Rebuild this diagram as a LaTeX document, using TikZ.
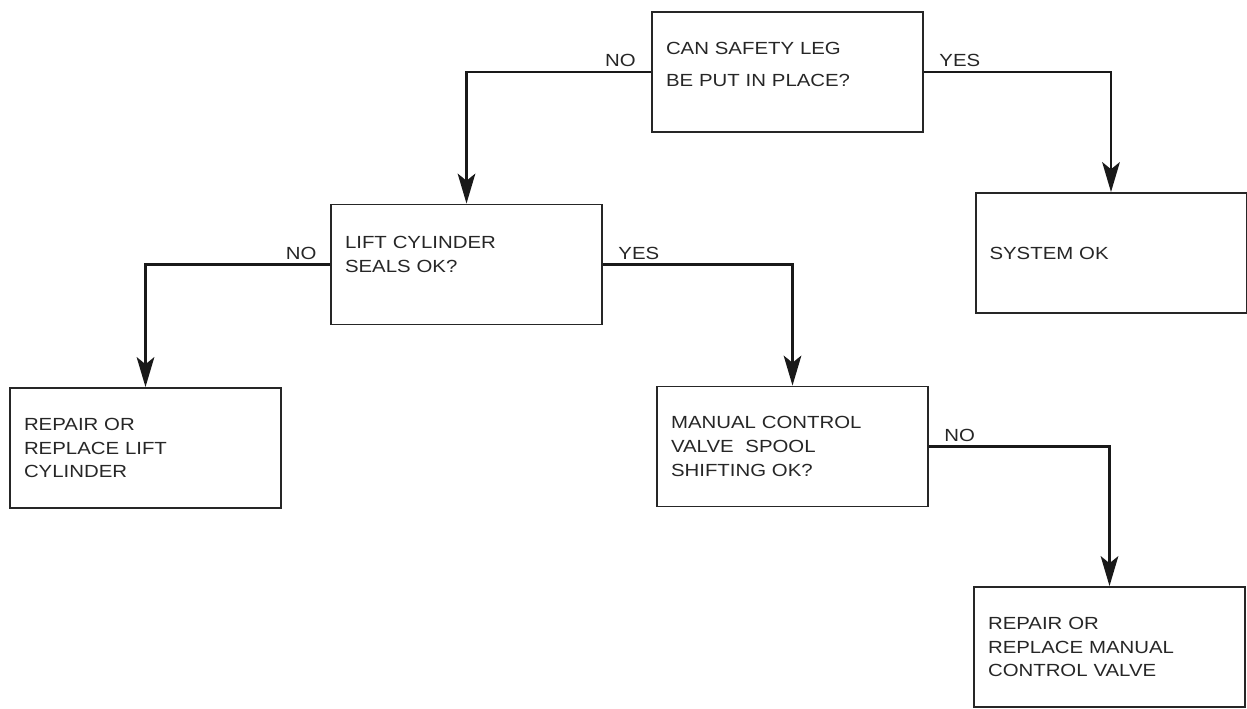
\documentclass[tikz,border=0pt]{standalone}
\usepackage{fontspec}
\setmainfont[FakeStretch=1.16]{Liberation Sans}
\usetikzlibrary{arrows.meta, positioning}

\begin{document}
\begin{tikzpicture}[
    % ── Global: one unit = one pixel of the sheet ──
    x=0.02cm, y=-0.02cm,
    % ── Node Styles ──
    qbox/.style={
        rectangle, draw=black!85, line width=1.1pt,
        minimum width=5.42cm, minimum height=2.4cm,
        text width=4.86cm, align=left, inner xsep=0.28cm,
        inner ysep=0.1cm, text=black!85,
        font=\fontsize{10}{13.6}\selectfont
    },
    arrow/.style={-{Stealth[length=17pt, width=10pt, inset=4pt]},
        line width=1.6pt, draw=black!90},
    lbl/.style={font=\fontsize{10}{12}\selectfont, text=black!85, inner sep=0pt},
]
\useasboundingbox (0,0) rectangle (1247,708);

% ════════════════════════════════════════════════════════
%  DECISIONS AND OUTCOMES
% ════════════════════════════════════════════════════════

\node (safety) [qbox] at (787.5,72)
    {CAN SAFETY LEG\\[4.5pt]BE PUT IN PLACE?\\[-5pt]\mbox{}};

\node (sysok) [qbox] at (1111,253) {SYSTEM OK};

\node (seals) [qbox] at (466.5,264.5)
    {LIFT CYLINDER\\SEALS OK?\\[-1.6pt]\mbox{}};

\node (liftcyl) [qbox] at (145.5,448)
    {REPAIR OR\\REPLACE LIFT\\CYLINDER};

\node (spool) [qbox] at (792.5,446.5)
    {MANUAL CONTROL\\VALVE~~SPOOL\\SHIFTING OK?};

\node (valve) [qbox] at (1109.5,647)
    {REPAIR OR\\REPLACE MANUAL\\CONTROL VALVE};

% ════════════════════════════════════════════════════════
%  ARROWS
% ════════════════════════════════════════════════════════

\draw [arrow] (safety.west) node[lbl, above left=2pt and 8pt] {NO} -| (seals.north);
\draw [arrow] (safety.east) node[lbl, above right=2pt and 8pt] {YES} -| (sysok.north);

\draw [arrow] (seals.west) node[lbl, above left=2pt and 7pt] {NO} -| (liftcyl.north);
\draw [arrow] (seals.east) node[lbl, above right=2pt and 8pt] {YES} -| (spool.north);

\draw [arrow] (spool.east) node[lbl, above right=2pt and 8pt] {NO} -| (valve.north);

\end{tikzpicture}
\end{document}
